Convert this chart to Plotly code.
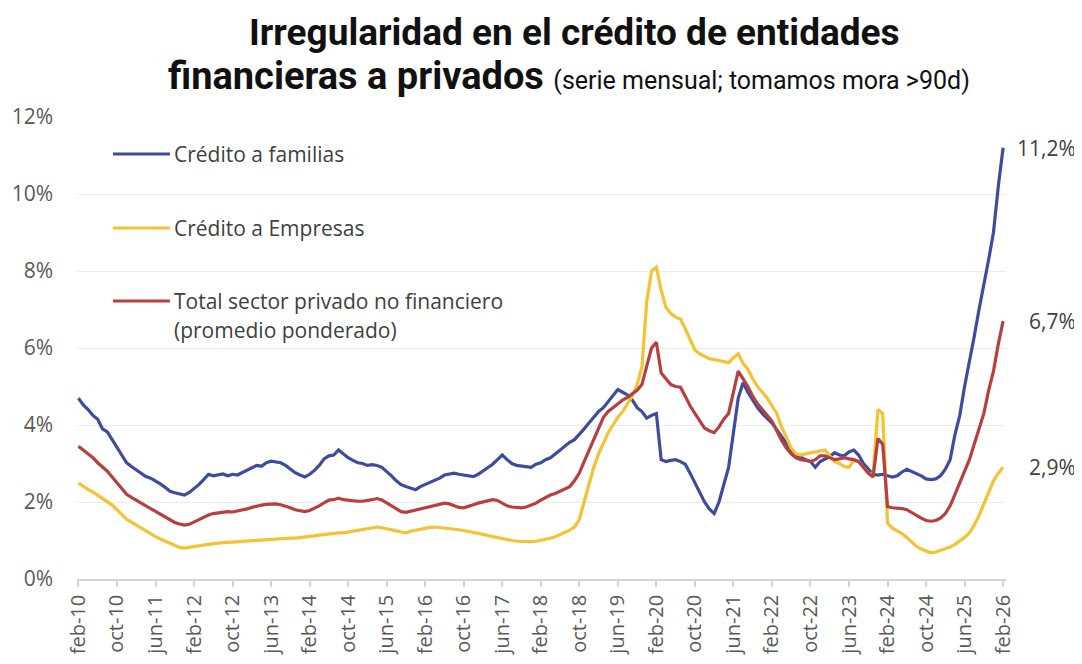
import plotly.graph_objects as go

# ---------------- data (monthly, feb-10 .. feb-26) ----------------
MESES = ["ene", "feb", "mar", "abr", "may", "jun", "jul", "ago", "sep", "oct", "nov", "dic"]
months = []
for year in range(2010, 2027):
    for i, mname in enumerate(MESES):
        if (year == 2010 and i < 1) or (year == 2026 and i > 1):
            continue
        months.append(f"{mname}-{str(year)[2:]}")

familias = [
    # 2010 feb-dic
    4.70, 4.52, 4.40, 4.25, 4.15, 3.90, 3.82, 3.62, 3.42, 3.22, 3.02,
    # 2011
    2.92, 2.83, 2.76, 2.66, 2.62, 2.55, 2.47, 2.38, 2.28, 2.24, 2.22, 2.18,
    # 2012
    2.25, 2.35, 2.45, 2.58, 2.72, 2.68, 2.70, 2.73, 2.68, 2.72, 2.70, 2.76,
    # 2013
    2.82, 2.88, 2.95, 2.93, 3.02, 3.06, 3.05, 3.02, 2.95, 2.85, 2.76, 2.70,
    # 2014
    2.65, 2.72, 2.82, 2.95, 3.12, 3.20, 3.22, 3.35, 3.25, 3.15, 3.08, 3.02,
    # 2015
    3.00, 2.95, 2.97, 2.95, 2.90, 2.80, 2.68, 2.55, 2.45, 2.40, 2.35, 2.32,
    # 2016
    2.40, 2.45, 2.50, 2.55, 2.62, 2.70, 2.72, 2.75, 2.72, 2.70, 2.68, 2.66,
    # 2017
    2.72, 2.80, 2.88, 2.98, 3.10, 3.22, 3.10, 3.00, 2.95, 2.93, 2.92, 2.90,
    # 2018
    2.98, 3.02, 3.10, 3.15, 3.25, 3.35, 3.45, 3.55, 3.62, 3.75, 3.90, 4.05,
    # 2019
    4.20, 4.35, 4.45, 4.60, 4.75, 4.92, 4.85, 4.78, 4.65, 4.45, 4.35, 4.18,
    # 2020
    4.25, 4.30, 3.10, 3.05, 3.08, 3.10, 3.05, 2.98, 2.75, 2.50, 2.25, 2.00,
    # 2021
    1.82, 1.70, 2.00, 2.45, 2.90, 3.80, 4.70, 5.10, 4.85, 4.65, 4.45, 4.30,
    # 2022
    4.18, 4.05, 3.88, 3.70, 3.50, 3.35, 3.22, 3.15, 3.10, 3.05, 2.90, 3.05,
    # 2023
    3.12, 3.18, 3.28, 3.22, 3.20, 3.30, 3.35, 3.22, 3.00, 2.85, 2.72, 2.70,
    # 2024
    2.72, 2.68, 2.65, 2.68, 2.78, 2.85, 2.80, 2.75, 2.68, 2.60, 2.58, 2.60,
    # 2025
    2.68, 2.85, 3.10, 3.75, 4.25, 5.00, 5.60, 6.30, 7.00, 7.60, 8.30, 9.00,
    # 2026 ene-feb
    10.20, 11.20,
]

empresas = [
    2.49, 2.40, 2.32, 2.26, 2.18, 2.10, 2.02, 1.92, 1.80, 1.66, 1.55,
    1.48, 1.40, 1.32, 1.24, 1.16, 1.10, 1.04, 0.98, 0.92, 0.86, 0.82, 0.80,
    0.82, 0.86, 0.88, 0.90, 0.90, 0.92, 0.93, 0.93, 0.95, 0.96, 0.97, 0.96,
    0.98, 1.00, 1.00, 1.02, 1.03, 1.04, 1.04, 1.05, 1.05, 1.06, 1.06, 1.07,
    1.08, 1.10, 1.12, 1.14, 1.16, 1.18, 1.19, 1.20, 1.20, 1.22, 1.24, 1.26,
    1.28, 1.30, 1.33, 1.35, 1.33, 1.31, 1.28, 1.25, 1.22, 1.20, 1.24, 1.27,
    1.30, 1.32, 1.34, 1.35, 1.34, 1.33, 1.32, 1.31, 1.28, 1.26, 1.24, 1.21,
    1.18, 1.16, 1.13, 1.10, 1.08, 1.05, 1.02, 1.00, 0.98, 0.97, 0.96, 0.97,
    0.98, 1.00, 1.03, 1.06, 1.10, 1.15, 1.20, 1.27, 1.35, 1.55, 2.00, 2.45,
    2.90, 3.25, 3.55, 3.80, 4.00, 4.20, 4.35, 4.55, 4.75, 5.05, 5.50, 7.20,
    8.00, 8.10, 7.50, 7.05, 6.90, 6.80, 6.75, 6.50, 6.20, 5.95, 5.85, 5.78,
    5.72, 5.70, 5.68, 5.65, 5.62, 5.75, 5.85, 5.60, 5.45, 5.20, 5.00, 4.85,
    4.70, 4.50, 4.30, 3.95, 3.65, 3.40, 3.25, 3.22, 3.25, 3.28, 3.30, 3.32,
    3.35, 3.20, 3.05, 3.00, 2.92, 2.90, 3.08, 3.05, 2.90, 2.75, 2.70, 4.40,
    4.30, 1.45, 1.32, 1.25, 1.18, 1.08, 0.95, 0.85, 0.78, 0.72, 0.68, 0.70,
    0.74, 0.78, 0.83, 0.90, 0.98, 1.08, 1.20, 1.40, 1.65, 1.95, 2.25, 2.55,
    2.75, 2.90,
]

total = [
    3.45, 3.35, 3.25, 3.15, 3.02, 2.92, 2.80, 2.65, 2.50, 2.35, 2.20,
    2.12, 2.04, 1.96, 1.90, 1.83, 1.76, 1.70, 1.63, 1.55, 1.47, 1.43, 1.40,
    1.42, 1.48, 1.55, 1.60, 1.66, 1.70, 1.72, 1.72, 1.75, 1.74, 1.76, 1.78,
    1.82, 1.86, 1.90, 1.92, 1.94, 1.95, 1.95, 1.93, 1.90, 1.85, 1.80, 1.77,
    1.75, 1.78, 1.83, 1.90, 1.98, 2.05, 2.06, 2.10, 2.06, 2.04, 2.02, 2.02,
    2.02, 2.03, 2.06, 2.09, 2.05, 1.98, 1.90, 1.82, 1.75, 1.73, 1.76, 1.80,
    1.83, 1.86, 1.90, 1.92, 1.95, 1.97, 1.95, 1.90, 1.86, 1.85, 1.88, 1.93,
    1.97, 2.00, 2.03, 2.06, 2.04, 1.96, 1.90, 1.87, 1.86, 1.85, 1.87, 1.92,
    1.97, 2.05, 2.12, 2.18, 2.22, 2.28, 2.35, 2.40, 2.55, 2.75, 3.05, 3.35,
    3.65, 3.95, 4.20, 4.35, 4.45, 4.55, 4.65, 4.72, 4.80, 4.90, 5.05, 5.55,
    6.00, 6.15, 5.35, 5.20, 5.05, 5.00, 4.98, 4.75, 4.50, 4.30, 4.10, 3.92,
    3.85, 3.80, 3.95, 4.15, 4.30, 4.90, 5.40, 5.20, 5.00, 4.75, 4.55, 4.40,
    4.25, 4.10, 3.85, 3.60, 3.40, 3.25, 3.15, 3.10, 3.08, 3.05, 3.10, 3.20,
    3.20, 3.15, 3.10, 3.12, 3.15, 3.12, 3.10, 3.05, 2.90, 2.75, 2.65, 3.65,
    3.50, 1.88, 1.85, 1.85, 1.83, 1.80, 1.72, 1.65, 1.58, 1.52, 1.50, 1.52,
    1.58, 1.70, 1.90, 2.20, 2.50, 2.80, 3.10, 3.50, 3.90, 4.30, 4.90, 5.40,
    6.10, 6.70,
]

series_names = ["Crédito a familias", "Crédito a Empresas", "Total sector privado no financiero"]
tick_labels = months[::8]

# ---------------- styling ----------------
C_BLUE = "#3D4C9C"
C_YELLOW = "#F4C232"
C_RED = "#B5403F"
TXT = "#404040"
AX = "#595959"
TICK_FONT = "Open Sans"

fig = go.Figure()
for name, vals, col in [(series_names[0], familias, C_BLUE),
                        (series_names[1], empresas, C_YELLOW),
                        (series_names[2], total, C_RED)]:
    fig.add_trace(go.Scatter(x=months, y=vals, mode="lines", name=name,
                             line=dict(color=col, width=3.2), showlegend=False,
                             hovertemplate="%{x}: %{y:.1f}%<extra>" + name + "</extra>"))

# page has an 8px body margin: figure coords = page coords - 8
OFF = 8
W, H = 1082 - OFF, 664 - OFF
ML, MT = 77 - OFF, 117 - OFF
MR = W - (1006 - OFF)
MB = H - (579 - OFF)
PW, PH = W - ML - MR, H - MT - MB


def px(xp):
    return (xp - OFF - ML) / PW


def py(yp):
    return (H - MB - (yp - OFF)) / PH


annotations = []
shapes = []

# Titles
annotations.append(dict(xref="paper", yref="paper", x=px(574), y=py(32), xanchor="center", yanchor="middle",
                        text="<b>Irregularidad en el crédito de entidades</b>", showarrow=False,
                        font=dict(family="Roboto", size=37, color="#111111")))
annotations.append(dict(xref="paper", yref="paper", x=px(569), y=py(76), xanchor="center", yanchor="middle",
                        text="<b>financieras a privados</b> <span style='font-size:25px'>(serie mensual; tomamos mora &gt;90d)</span>",
                        showarrow=False, font=dict(family="Roboto", size=38, color="#111111")))

# Manual legend
legend_rows = [(series_names[0], C_BLUE, 154), (series_names[1], C_YELLOW, 228), (series_names[2], C_RED, 301)]
for label, col, yy in legend_rows:
    shapes.append(dict(type="line", xref="paper", yref="paper", x0=px(113), x1=px(170), y0=py(yy), y1=py(yy),
                       line=dict(color=col, width=3)))
    annotations.append(dict(xref="paper", yref="paper", x=px(172), y=py(yy), xanchor="left", yanchor="middle",
                            text=label, showarrow=False, font=dict(family=TICK_FONT, size=21, color=TXT)))
annotations.append(dict(xref="paper", yref="paper", x=px(172), y=py(330), xanchor="left", yanchor="middle",
                        text="(promedio ponderado)", showarrow=False, font=dict(family=TICK_FONT, size=21, color=TXT)))

# End-value labels
for vals in (familias, total, empresas):
    v = vals[-1]
    annotations.append(dict(xref="paper", yref="y", x=px(1078), y=v, xanchor="right", yanchor="middle",
                            text=f"{v:.1f}".replace(".", ",") + "%", showarrow=False,
                            font=dict(family=TICK_FONT, size=21, color=TXT)))

fig.update_layout(
    width=W, height=H,
    margin=dict(l=ML, r=MR, t=MT, b=MB, autoexpand=False),
    paper_bgcolor="white", plot_bgcolor="white",
    annotations=annotations, shapes=shapes,
    xaxis=dict(type="category", categoryorder="array", categoryarray=months,
               range=[-0.3, len(months) - 1 + 0.6],
               tickmode="array", tickvals=tick_labels, ticktext=tick_labels,
               tickangle=-90, tickfont=dict(family=TICK_FONT, size=20, color=AX),
               showgrid=False, showline=True, linecolor="#d4d4d4", linewidth=1.5,
               ticks="outside", ticklen=6, tickcolor="#d4d4d4", tickwidth=1.5, zeroline=False),
    yaxis=dict(range=[0, 12], tickmode="array", tickvals=[0, 2, 4, 6, 8, 10, 12],
               ticktext=["0%", "2%", "4%", "6%", "8%", "10%", "12%"],
               tickfont=dict(family=TICK_FONT, size=21, color=AX),
               showgrid=True, gridcolor="#ececec", gridwidth=1, zeroline=False,
               showline=False, ticks="", ticklabelstandoff=23),
)

fig.write_html("out.html")
